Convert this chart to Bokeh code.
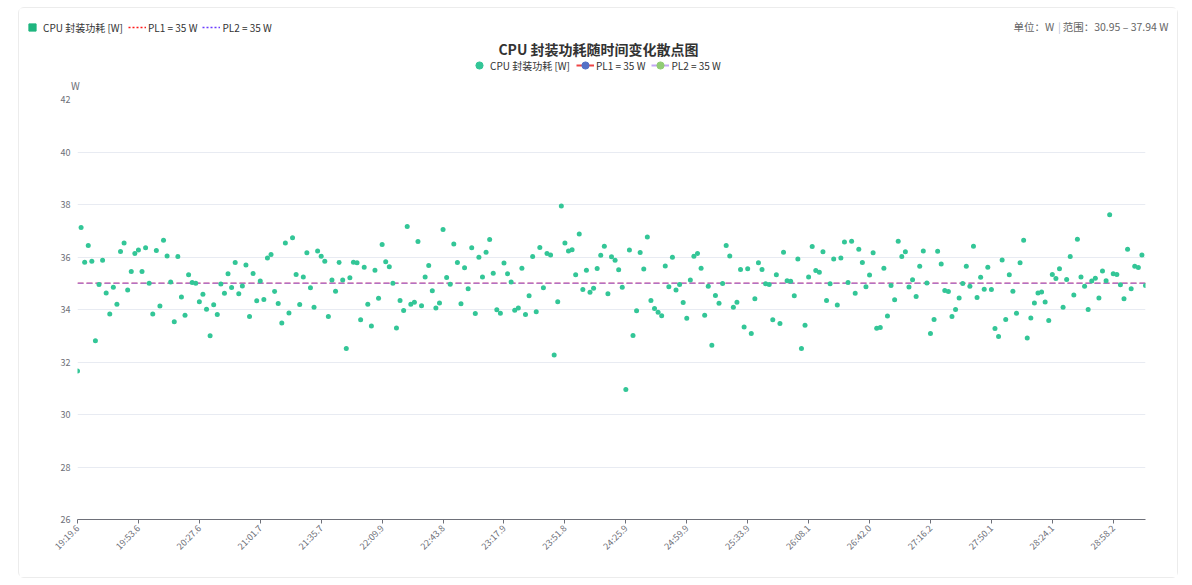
import math
from bokeh.plotting import figure
from bokeh.layouts import column
from bokeh.models import (Range1d, FixedTicker, SingleIntervalTicker, Label,
                          Legend, LegendItem, ColumnDataSource)
from bokeh.embed import file_html
from bokeh.resources import INLINE

# ---------------- data ----------------
power_w = [
    31.66, 37.12, 35.80, 36.44, 35.84, 32.81, 34.95, 35.88, 34.63, 33.83,
    34.85, 34.20, 36.21, 36.53, 34.74, 35.45, 36.13, 36.27, 35.45, 36.35,
    35.00, 33.83, 36.25, 34.13, 36.64, 36.04, 35.05, 33.53, 36.02, 34.48,
    33.78, 35.32, 35.03, 35.00, 34.30, 34.58, 34.01, 33.00, 34.18, 33.81,
    34.97, 34.62,
    35.36, 34.84, 35.79, 34.60, 34.90, 35.70, 33.73, 35.37, 34.33, 35.09,
    34.38, 35.96, 36.10, 34.69, 34.23, 33.49, 36.53, 33.87, 36.73, 35.33,
    34.19, 35.24, 36.16, 34.83, 34.09, 36.23, 36.03, 35.84, 33.73, 35.12,
    34.70, 35.79, 35.12, 32.51, 35.21, 35.80, 35.78, 33.61, 35.61, 34.20,
    33.37, 35.50, 34.43,
    36.48, 35.82, 35.63, 35.00, 33.30, 34.34, 33.96, 37.16, 34.20, 34.28,
    36.59, 34.14, 35.24, 35.68, 34.71, 34.06, 34.25, 37.05, 35.22, 34.96,
    36.50, 35.79, 34.22, 35.59, 34.79, 36.35, 33.85, 35.99, 35.24, 36.18,
    36.67, 35.38, 33.99, 33.86, 35.77, 35.36, 35.05, 33.97, 34.06, 35.57,
    33.81, 34.52, 36.02, 33.91,
    36.36, 34.83, 36.13, 36.08, 32.27, 34.30, 37.94, 36.53, 36.23, 36.28,
    35.32, 36.88, 34.76, 35.50, 34.66, 34.81, 35.56, 36.07, 36.41, 34.60,
    36.01, 35.88, 35.51, 34.85, 30.95, 36.27, 33.01, 33.95, 36.17, 35.54,
    36.76, 34.34, 34.04, 33.90, 33.76, 35.66, 34.87, 35.99, 34.74, 34.95,
    34.27, 33.67, 35.12,
    36.03, 36.13, 35.57, 33.78, 34.89, 32.64, 34.53, 34.24, 34.99, 36.44,
    36.04, 34.09, 34.28, 35.52, 33.33, 35.55, 33.09, 34.41, 35.78, 35.52,
    34.98, 34.95, 33.61, 35.32, 33.47, 36.18, 35.10, 35.08, 34.52, 35.92,
    32.51, 33.40, 35.24, 36.40, 35.49, 35.42, 36.20, 34.34, 34.98, 35.92,
    34.17, 35.96, 36.57, 35.03,
    36.60, 34.62, 36.30, 35.79, 34.87, 35.31, 36.16, 33.29, 33.31, 35.57,
    33.75, 34.91, 34.37, 36.60, 36.02, 36.20, 34.86, 35.13, 34.50, 35.65,
    36.23, 35.01, 33.09, 33.62, 36.22, 35.73, 34.72, 34.69, 33.73, 34.00,
    34.44, 34.99, 35.65, 34.89, 36.41, 34.46, 35.23, 34.77, 35.61, 34.76,
    33.28, 32.97, 35.89,
    33.62, 35.32, 34.70, 33.86, 35.78, 36.64, 32.91, 33.68, 34.25, 34.63,
    34.67, 34.29, 33.58, 35.33, 35.18, 35.55, 34.09, 35.14, 36.02, 34.55,
    36.68, 35.24, 34.89, 34.00, 35.09, 35.19, 34.44, 35.47, 35.10, 37.61,
    35.36, 35.33, 34.94, 34.41, 36.30, 34.79, 35.65, 35.60, 36.08, 34.91,
]

tick_labels = ["19:19.6", "19:53.6", "20:27.6", "21:01.7", "21:35.7", "22:09.9",
               "22:43.8", "23:17.9", "23:51.8", "24:25.9", "24:59.9", "25:33.9",
               "26:08.1", "26:42.0", "27:16.2", "27:50.1", "28:24.1", "28:58.2"]
tick_every = 17          # one label every 17 samples
pl1_w = 35
pl2_w = 35
y_min, y_max, y_step = 26, 42, 2

series_name = "CPU 封装功耗 [W]"
pl1_name = f"PL1 = {pl1_w} W"
pl2_name = f"PL2 = {pl2_w} W"
title_text = "CPU 封装功耗随时间变化散点图"
unit_text = "单位：W"
range_text = f"范围：{min(power_w):.2f} – {max(power_w):.2f} W"

FONT = "Noto Sans CJK SC"
C_PTS = "#33c697"

W = 1158
HEAD_H = 84
CHART_H = 485

idx = list(range(len(power_w)))
src = ColumnDataSource(dict(x=idx, y=power_w))

# ---------------- header (title + legends) ----------------
head = figure(width=W, height=HEAD_H, x_range=Range1d(0, W), y_range=Range1d(0, HEAD_H),
              output_backend="svg", toolbar_location=None,
              x_axis_location=None, y_axis_location=None,
              min_border_left=0, min_border_right=0, min_border_top=0, min_border_bottom=0)
head.frame_align = False
head.grid.visible = False
head.outline_line_color = None
head.background_fill_color = "white"
head.border_fill_color = "white"

h_sq = head.scatter([0], [0], marker="square", size=8, fill_color="#1fb57f",
                    line_color="#1fb57f", visible=False)
h_dot1 = head.line([0, 1], [0, 0], line_color="#ff1a1a", line_width=1.5,
                   line_dash="2 2", visible=False)
h_dot2 = head.line([0, 1], [0, 0], line_color="#6b3cff", line_width=1.5,
                   line_dash="2 2", visible=False)
h_pts = head.scatter([0], [0], size=8, fill_color=C_PTS, line_color=C_PTS, visible=False)
h_l1 = head.line([0, 1], [0, 0], line_color="#ee4444", line_width=2, visible=False)
h_c1 = head.scatter([0], [0], size=7, fill_color="#5470c6", line_color="#5470c6", visible=False)
h_l2 = head.line([0, 1], [0, 0], line_color="#c3a6f5", line_width=2, visible=False)
h_c2 = head.scatter([0], [0], size=7, fill_color="#91cc75", line_color="#91cc75", visible=False)


def style_legend(lg, gw, gh, spacing):
    lg.orientation = "horizontal"
    lg.background_fill_alpha = 0
    lg.border_line_alpha = 0
    lg.padding = 0
    lg.margin = 0
    lg.spacing = spacing
    lg.glyph_width = gw
    lg.glyph_height = gh
    lg.label_height = gh
    lg.label_standoff = 2
    lg.label_text_font = FONT
    lg.label_text_font_size = "10px"
    lg.label_text_color = "#333333"
    lg.click_policy = "none"


leg1 = Legend(items=[LegendItem(label=series_name, renderers=[h_sq]),
                     LegendItem(label=pl1_name, renderers=[h_dot1]),
                     LegendItem(label=pl2_name, renderers=[h_dot2])],
              location=(4, 55))
style_legend(leg1, 18, 20, 5)
head.add_layout(leg1, "center")

leg2 = Legend(items=[LegendItem(label=series_name, renderers=[h_pts]),
                     LegendItem(label=pl1_name, renderers=[h_l1, h_c1]),
                     LegendItem(label=pl2_name, renderers=[h_l2, h_c2])],
              location=(451, 18))
style_legend(leg2, 18, 18, 6)
head.add_layout(leg2, "center")

head.add_layout(Label(x=579, y=44, text=title_text, text_font=FONT,
                      text_font_size="14px", text_font_style="bold",
                      text_color="#333333", text_align="center",
                      text_baseline="middle"))
head.add_layout(Label(x=994, y=66, text=unit_text, text_font=FONT,
                      text_font_size="10.5px", text_color="#666666",
                      text_align="left", text_baseline="middle"))
head.add_layout(Label(x=1040, y=66, text="|", text_font=FONT,
                      text_font_size="10.5px", text_color="#b8c4d6",
                      text_align="center", text_baseline="middle"))
head.add_layout(Label(x=1149, y=66, text=range_text, text_font=FONT,
                      text_font_size="10.5px", text_color="#666666",
                      text_align="right", text_baseline="middle"))
head.add_layout(Label(x=56, y=7, text="W", text_font=FONT,
                      text_font_size="10px", text_color="#6e7079",
                      text_align="center", text_baseline="middle"))

# ---------------- chart ----------------
p = figure(width=W, height=CHART_H,
           x_range=Range1d(0, len(power_w) - 1), y_range=Range1d(y_min, y_max),
           output_backend="svg", toolbar_location=None,
           min_border_left=58, min_border_right=32,
           min_border_top=7, min_border_bottom=58)
p.frame_align = False
p.outline_line_color = None
p.background_fill_color = "white"
p.border_fill_color = "white"

xa = p.xaxis[0]
xa.ticker = FixedTicker(ticks=[i * tick_every for i in range(len(tick_labels))])
xa.major_label_overrides = {i * tick_every: t for i, t in enumerate(tick_labels)}
xa.major_label_orientation = math.pi / 4
xa.major_label_text_font = FONT
xa.major_label_text_font_size = "9px"
xa.major_label_text_color = "#6e7079"
xa.axis_line_color = "#6e7079"
xa.major_tick_line_color = "#6e7079"
xa.major_tick_in = 0
xa.major_tick_out = 4
xa.minor_tick_line_color = None
xa.major_label_standoff = 3

ya = p.yaxis[0]
ya.ticker = SingleIntervalTicker(interval=y_step, num_minor_ticks=0)
ya.major_label_text_font = FONT
ya.major_label_text_font_size = "9px"
ya.major_label_text_color = "#6e7079"
ya.axis_line_color = None
ya.major_tick_line_color = None
ya.major_tick_in = 0
ya.major_tick_out = 0
ya.minor_tick_line_color = None
ya.major_label_standoff = 7

p.xgrid.visible = False
p.ygrid.grid_line_color = "#e8ebf2"
p.ygrid.ticker = SingleIntervalTicker(interval=y_step, num_minor_ticks=0)

p.line(idx, [pl1_w] * len(idx), line_color="#ff0000", line_alpha=0.55,
       line_width=1.6, line_dash="6 3")
p.line(idx, [pl2_w] * len(idx), line_color="#a070d8", line_alpha=0.8,
       line_width=1.6, line_dash="6 3")

p.scatter("x", "y", source=src, size=5, fill_color=C_PTS, line_color=None)

layout = column(head, p, spacing=0,
                styles={"border": "1px solid #ececec", "border-radius": "6px"})
layout.margin = (7, 0, 0, 18)

open("out.html", "w").write(file_html(layout, INLINE))
